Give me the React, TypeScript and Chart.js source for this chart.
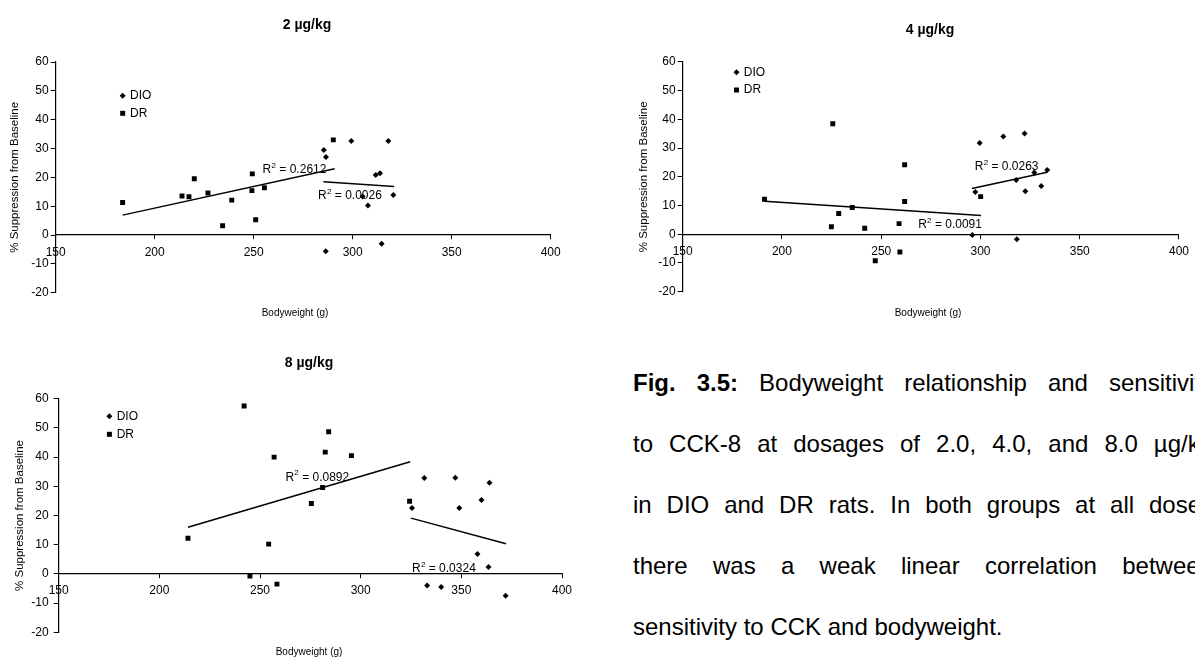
import React, { useEffect, useRef } from 'react';
import { Chart, registerables } from 'chart.js';

Chart.register(...registerables);

const FONT = "'Liberation Sans', Arial, Helvetica, sans-serif";

// ---------- shared axis ticks ----------
const xTickValues = [150, 200, 250, 300, 350, 400];
const yTickValues = [-20, -10, 0, 10, 20, 30, 40, 50, 60];

const seriesNames = ['DIO', 'DR'];
const xAxisTitle = 'Bodyweight (g)';
const yAxisTitle = '% Suppression from Baseline';

// ---------- 2 µg/kg ----------
const dio2X = [285.4, 286.5, 299.3, 318.0, 311.6, 313.8, 305.0, 307.7, 320.5, 286.4, 314.6];
const dio2Y = [29.5, 27.1, 32.6, 32.6, 20.8, 21.4, 13.4, 10.2, 13.9, -5.6, -3.0];
const dr2X = [183.8, 213.8, 217.3, 220.0, 226.9, 234.3, 238.9, 249.3, 249.1, 251.0, 255.4, 290.2];
const dr2Y = [11.3, 13.5, 13.3, 19.5, 14.6, 3.2, 12.1, 21.2, 15.4, 5.3, 16.4, 33.0];
const dioTrend2X = [285.2, 320.9];
const dioTrend2Y = [18.5, 16.8];
const drTrend2X = [183.8, 290.9];
const drTrend2Y = [6.9, 23.0];
const r2Values2 = ['0.0026', '0.2612']; // DIO, DR

// ---------- 4 µg/kg ----------
const dio4X = [299.6, 311.5, 322.2, 297.4, 318.0, 322.6, 327.1, 333.6, 330.6, 295.9, 318.3];
const dio4Y = [31.8, 34.0, 35.1, 14.7, 18.9, 15.0, 21.5, 22.4, 16.8, -0.3, -1.7];
const dr4X = [191.2, 225.6, 224.9, 228.6, 235.4, 241.7, 259.0, 261.8, 261.8, 259.4, 247.0, 300.1];
const dr4Y = [12.2, 38.5, 2.6, 7.2, 9.3, 2.1, 3.7, 24.2, 11.4, -6.2, -9.2, 13.1];
const dioTrend4X = [295.7, 333.6];
const dioTrend4Y = [15.9, 21.6];
const drTrend4X = [191.2, 300.3];
const drTrend4Y = [11.5, 6.5];
const r2Values4 = ['0.0263', '0.0091'];

// ---------- 8 µg/kg ----------
const dio8X = [325.5, 331.6, 333.0, 340.0, 347.0, 349.0, 360.0, 358.0, 364.0, 363.5, 372.0];
const dio8Y = [22.6, 32.8, -4.0, -4.5, 32.9, 22.6, 25.3, 6.8, 31.2, 2.4, -7.5];
const dr8X = [214.2, 242.1, 257.0, 254.3, 245.0, 258.4, 284.1, 282.4, 295.4, 281.1, 275.5, 324.3];
const dr8Y = [12.2, 57.5, 40.0, 10.2, -0.7, -3.5, 48.7, 41.7, 40.5, 29.6, 24.1, 24.9];
const dioTrend8X = [325.0, 372.2];
const dioTrend8Y = [19.1, 10.3];
const drTrend8X = [214.2, 324.6];
const drTrend8Y = [16.0, 38.4];
const r2Values8 = ['0.0324', '0.0892'];

// ---------- caption ----------
const captionBold = 'Fig. 3.5:';
const captionLines = [
  ' Bodyweight relationship and sensitivity',
  'to CCK-8 at dosages of 2.0, 4.0, and 8.0 µg/kg',
  'in DIO and DR rats.  In both groups at all doses',
  'there was a weak linear correlation between',
  'sensitivity to CCK and bodyweight.',
];

const zip = (xs: number[], ys: number[]) => xs.map((x, i) => ({ x, y: ys[i] }));

type Panel = {
  title: string;
  dioX: number[]; dioY: number[]; drX: number[]; drY: number[];
  dioTX: number[]; dioTY: number[]; drTX: number[]; drTY: number[];
  r2: string[];
  left: number; top: number; w: number; h: number;
  plot: { l: number; r: number; t: number; b: number };
  padLeft: number;
  yTitlePad: number;
  yTickPad: number;
  titlePos: { x: number; y: number };
  xTitlePos: { x: number; y: number };
  legend: { dx: number; dy: number; gap: number };
  r2Pos: { x: number; y: number }[];
};

const panels: Panel[] = [
  {
    title: '2 µg/kg',
    dioX: dio2X, dioY: dio2Y, drX: dr2X, drY: dr2Y,
    dioTX: dioTrend2X, dioTY: dioTrend2Y, drTX: drTrend2X, drTY: drTrend2Y,
    r2: r2Values2,
    left: 0, top: 0, w: 600, h: 330,
    plot: { l: 55.7, r: 550.7, t: 62, b: 292.7 },
    padLeft: 0, yTitlePad: 8, yTickPad: 2,
    titlePos: { x: 307, y: 25 },
    xTitlePos: { x: 295, y: 313 },
    legend: { dx: 67, dy: 33.7, gap: 17.6 },
    r2Pos: [{ x: 282.5, y: 13.5 }, { x: 254.5, y: 22.5 }],
  },
  {
    title: '4 µg/kg',
    dioX: dio4X, dioY: dio4Y, drX: dr4X, drY: dr4Y,
    dioTX: dioTrend4X, dioTY: dioTrend4Y, drTX: drTrend4X, drTY: drTrend4Y,
    r2: r2Values4,
    left: 600, top: 0, w: 595, h: 330,
    plot: { l: 82.7, r: 582.7, t: 61.9, b: 291.7 },
    padLeft: 30, yTitlePad: 7, yTickPad: 2,
    titlePos: { x: 330, y: 30 },
    xTitlePos: { x: 328, y: 313 },
    legend: { dx: 53.8, dy: 10.4, gap: 17.7 },
    r2Pos: [{ x: 297.1, y: 23.4 }, { x: 268.6, y: 3.2 }],
  },
  {
    title: '8 µg/kg',
    dioX: dio8X, dioY: dio8Y, drX: dr8X, drY: dr8Y,
    dioTX: dioTrend8X, dioTY: dioTrend8Y, drTX: drTrend8X, drTY: drTrend8Y,
    r2: r2Values8,
    left: 0, top: 335, w: 600, h: 326,
    plot: { l: 58.7, r: 562, t: 63.7, b: 297.3 },
    padLeft: 0, yTitlePad: 13, yTickPad: 5,
    titlePos: { x: 309, y: 28.3 },
    xTitlePos: { x: 309, y: 317.5 },
    legend: { dx: 50.7, dy: 17.6, gap: 18 },
    r2Pos: [{ x: 325.5, y: 1.7 }, { x: 262.6, y: 33.1 }],
  },
];

function makeDecor(p: Panel) {
  return {
    id: 'decor',
    afterDraw(chart: any) {
      const { ctx, chartArea, scales } = chart;
      ctx.save();
      ctx.fillStyle = '#000';
      ctx.textBaseline = 'middle';
      ctx.font = `bold 14px ${FONT}`;
      ctx.textAlign = 'center';
      ctx.fillText(p.title, p.titlePos.x, p.titlePos.y);
      ctx.font = `10px ${FONT}`;
      ctx.fillText(xAxisTitle, p.xTitlePos.x, p.xTitlePos.y);
      ctx.textAlign = 'left';
      ctx.font = `12px ${FONT}`;
      const markers = chart.data.datasets.filter((d: any) => !d.isTrend);
      markers.forEach((d: any, i: number) => {
        const mx = chartArea.left + p.legend.dx;
        const my = chartArea.top + p.legend.dy + i * p.legend.gap;
        ctx.beginPath();
        if (d.pointStyle === 'rectRot') {
          const r = 3;
          ctx.moveTo(mx, my - r);
          ctx.lineTo(mx + r, my);
          ctx.lineTo(mx, my + r);
          ctx.lineTo(mx - r, my);
          ctx.closePath();
          ctx.fill();
        } else {
          ctx.fillRect(mx - 2.5, my - 2.5, 5, 5);
        }
        ctx.fillText(d.label, mx + 7.3, my);
      });
      p.r2.forEach((val, i) => {
        const pos = p.r2Pos[i];
        let x = scales.x.getPixelForValue(pos.x);
        const y = scales.y.getPixelForValue(pos.y);
        ctx.font = `12px ${FONT}`;
        ctx.fillText('R', x, y);
        x += ctx.measureText('R').width;
        ctx.font = `8px ${FONT}`;
        ctx.fillText('2', x + 0.3, y - 4.5);
        x += ctx.measureText('2').width + 0.3;
        ctx.font = `12px ${FONT}`;
        ctx.fillText(' = ' + val, x, y);
      });
      ctx.restore();
    },
  };
}

function makeConfig(p: Panel): any {
  const pointBase = { backgroundColor: '#000', borderColor: '#000', borderWidth: 0, showLine: false };
  const trendBase = {
    isTrend: true, showLine: true, pointRadius: 0, borderColor: '#000', borderWidth: 1.5,
    backgroundColor: '#000', fill: false,
  };
  const yAxisW = p.plot.l - p.padLeft;
  return {
    type: 'scatter',
    data: {
      datasets: [
        { ...pointBase, label: seriesNames[0], data: zip(p.dioX, p.dioY), pointStyle: 'rectRot', pointRadius: 3 },
        { ...pointBase, label: seriesNames[1], data: zip(p.drX, p.drY), pointStyle: 'rect', pointRadius: 3.5 },
        { ...trendBase, label: 'DIO trend', data: zip(p.dioTX, p.dioTY) },
        { ...trendBase, label: 'DR trend', data: zip(p.drTX, p.drTY) },
      ],
    },
    options: {
      animation: false,
      responsive: false,
      devicePixelRatio: 1,
      events: [],
      layout: {
        padding: { left: p.padLeft, top: p.plot.t, right: p.w - p.plot.r, bottom: p.h - p.plot.b },
      },
      plugins: { legend: { display: false }, tooltip: { enabled: false }, title: { display: false } },
      scales: {
        x: {
          type: 'linear',
          min: xTickValues[0],
          max: xTickValues[xTickValues.length - 1],
          position: { y: 0 },
          afterBuildTicks: (s: any) => { s.ticks = xTickValues.map((v) => ({ value: v })); },
          ticks: { color: '#000', font: { size: 12, family: FONT }, padding: 6, maxRotation: 0, autoSkip: false },
          grid: { drawOnChartArea: false, drawTicks: true, tickLength: 4, color: '#000', lineWidth: 1 },
          border: { display: true, color: '#000', width: 1.2 },
        },
        y: {
          type: 'linear',
          min: yTickValues[0],
          max: yTickValues[yTickValues.length - 1],
          position: 'left',
          afterBuildTicks: (s: any) => { s.ticks = yTickValues.map((v) => ({ value: v })); },
          afterFit: (s: any) => { s.width = yAxisW; },
          ticks: { color: '#000', font: { size: 12, family: FONT }, padding: p.yTickPad, autoSkip: false },
          grid: { drawOnChartArea: false, drawTicks: true, tickLength: 5, color: '#000', lineWidth: 1 },
          border: { display: true, color: '#000', width: 1.2 },
          title: {
            display: true,
            text: yAxisTitle,
            color: '#000',
            font: { size: 11.5, family: FONT },
            padding: { top: p.yTitlePad, bottom: 0 },
          },
        },
      },
    },
    plugins: [makeDecor(p)],
  };
}

function PanelChart({ p }: { p: Panel }) {
  const ref = useRef<HTMLCanvasElement>(null);
  useEffect(() => {
    const chart = new Chart(ref.current as HTMLCanvasElement, makeConfig(p));
    return () => chart.destroy();
  }, [p]);
  return (
    <canvas
      ref={ref}
      width={p.w}
      height={p.h}
      style={{ position: 'absolute', left: p.left, top: p.top, width: p.w, height: p.h }}
    />
  );
}

const captionStyle = {
  left: 633,
  width: 580,
  fontSize: 24,
  lineTops: [368, 429, 490, 551, 612],
};

export default function App() {
  return (
    <div
      style={{
        position: 'fixed', left: 0, top: 0, width: 1195, height: 661, overflow: 'hidden',
        background: '#fff', fontFamily: FONT, color: '#000',
      }}
    >
      {panels.map((p, i) => <PanelChart key={i} p={p} />)}
      {captionLines.map((line, i) => (
        <div
          key={i}
          style={{
            position: 'absolute',
            left: captionStyle.left,
            top: captionStyle.lineTops[i],
            width: captionStyle.width,
            height: 30,
            lineHeight: '30px',
            fontSize: captionStyle.fontSize,
            whiteSpace: i === captionLines.length - 1 ? 'nowrap' : 'normal',
            textAlign: i === captionLines.length - 1 ? 'left' : 'justify',
            textAlignLast: i === captionLines.length - 1 ? 'left' : 'justify',
            overflow: 'hidden',
          } as React.CSSProperties}
        >
          {i === 0 ? <b>{captionBold}</b> : null}
          {line}
        </div>
      ))}
    </div>
  );
}
